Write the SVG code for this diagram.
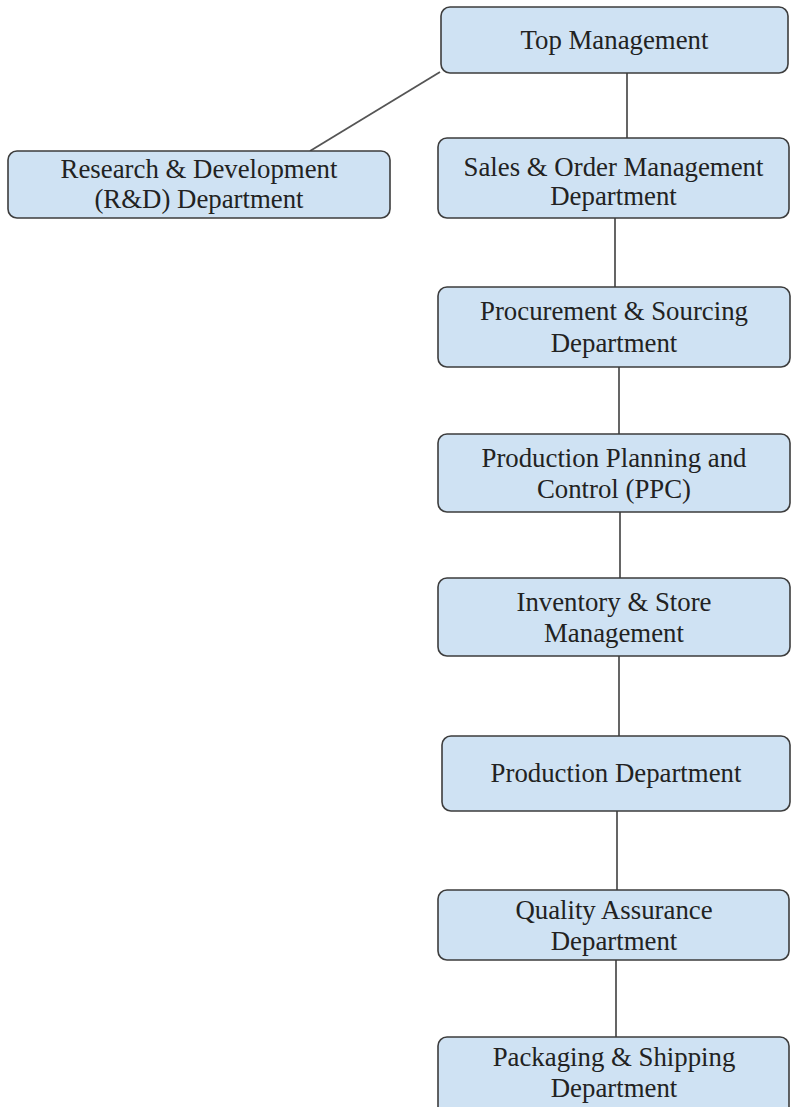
<svg xmlns="http://www.w3.org/2000/svg" width="791" height="1107" viewBox="0 0 791 1107">
<style>
.box{fill:#cfe2f3;stroke:#3d3d3d;stroke-width:1.6}
.t{font-family:"Liberation Serif","Times New Roman",serif;font-size:26.8px;fill:#222;text-anchor:middle}
.c{stroke:#555;stroke-width:1.8;fill:none}
</style>
<rect width="791" height="1107" fill="#fff"/>
<g id="connectors">
<line class="c" x1="627" y1="73" x2="627" y2="138"/>
<line class="c" x1="440" y1="72" x2="310" y2="151"/>
<line class="c" x1="615" y1="218" x2="615" y2="287"/>
<line class="c" x1="619" y1="367" x2="619" y2="434"/>
<line class="c" x1="620" y1="512" x2="620" y2="578"/>
<line class="c" x1="619" y1="656" x2="619" y2="736"/>
<line class="c" x1="617" y1="811" x2="617" y2="890"/>
<line class="c" x1="616" y1="960" x2="616" y2="1037"/>
</g>
<g id="top"><rect class="box" x="441" y="7" width="347" height="66" rx="9"/><text class="t" x="614.5" y="49">Top Management</text></g>
<g id="rnd"><rect class="box" x="8" y="151" width="382" height="67" rx="9"/><text class="t" x="199" y="178">Research &amp; Development</text><text class="t" x="199" y="208">(R&amp;D) Department</text></g>
<g id="sales"><rect class="box" x="438" y="138" width="351" height="80" rx="9"/><text class="t" x="613.5" y="176">Sales &amp; Order Management</text><text class="t" x="613.5" y="205">Department</text></g>
<g id="procurement"><rect class="box" x="438" y="287" width="352" height="80" rx="9"/><text class="t" x="614" y="320">Procurement &amp; Sourcing</text><text class="t" x="614" y="352">Department</text></g>
<g id="ppc"><rect class="box" x="438" y="434" width="352" height="78" rx="9"/><text class="t" x="614" y="467">Production Planning and</text><text class="t" x="614" y="498">Control (PPC)</text></g>
<g id="inventory"><rect class="box" x="438" y="578" width="352" height="78" rx="9"/><text class="t" x="614" y="611">Inventory &amp; Store</text><text class="t" x="614" y="642">Management</text></g>
<g id="production"><rect class="box" x="442" y="736" width="348" height="75" rx="9"/><text class="t" x="616" y="782">Production Department</text></g>
<g id="qa"><rect class="box" x="438" y="890" width="351" height="70" rx="9"/><text class="t" x="614" y="919">Quality Assurance</text><text class="t" x="614" y="950">Department</text></g>
<g id="packaging"><rect class="box" x="438" y="1037" width="351" height="80" rx="9"/><text class="t" x="614" y="1066">Packaging &amp; Shipping</text><text class="t" x="614" y="1097">Department</text></g>
</svg>
